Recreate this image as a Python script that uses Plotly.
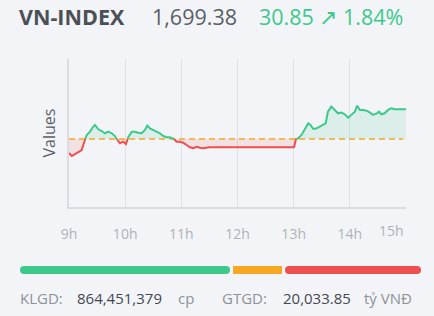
import plotly.graph_objects as go

W, H = 434, 316

# ---------------- data ----------------
index_name = "VN-INDEX"
last_value = 1699.38
change = 30.85
pct_change = 1.84
ref_value = 1668.53
klgd = 864451379
gtgd = 20033.85

times = [9.000, 9.048, 9.107, 9.165, 9.226, 9.254, 9.285, 9.315, 9.374, 9.422,
         9.463, 9.521, 9.582, 9.641, 9.699, 9.760, 9.819, 9.859, 9.907, 9.966,
         10.014, 10.055, 10.116, 10.174, 10.233, 10.294, 10.352, 10.393, 10.441, 10.500,
         10.560, 10.619, 10.678, 10.738, 10.797, 10.856, 10.916, 10.975, 11.034, 11.094,
         11.153, 11.212, 11.272, 11.331, 11.390, 11.450, 11.500,
         13.000, 13.010, 13.04, 13.08, 13.14, 13.20, 13.26, 13.30, 13.35, 13.41,
         13.47, 13.52, 13.57, 13.61, 13.67, 13.73, 13.79, 13.85, 13.91, 13.97,
         14.03, 14.09, 14.13, 14.18, 14.24, 14.30, 14.36, 14.41, 14.48, 14.52,
         14.56, 14.62, 14.68, 14.74, 14.80, 15.00]
values = [1654.0, 1650.9, 1652.9, 1655.3, 1657.1, 1662.3, 1667.5, 1672.7, 1676.1, 1680.7,
          1683.1, 1678.6, 1676.8, 1674.5, 1676.1, 1674.5, 1671.6, 1667.5, 1664.1, 1665.7,
          1663.3, 1670.3, 1676.1, 1676.1, 1675.1, 1674.5, 1677.9, 1682.3, 1679.6, 1677.9,
          1676.1, 1674.5, 1671.6, 1670.3, 1670.3, 1669.3, 1665.7, 1665.7, 1664.7, 1662.3,
          1659.9, 1658.9, 1660.5, 1659.5, 1658.9, 1659.5, 1659.9,
          1659.9, 1660.5, 1668.2, 1669.3, 1672.7, 1679.6, 1684.8, 1683.1, 1678.9, 1679.6,
          1682.0, 1683.1, 1684.8, 1696.9, 1702.1, 1698.7, 1695.2, 1695.9, 1694.2, 1690.7,
          1693.5, 1696.9, 1703.1, 1698.7, 1698.7, 1697.9, 1695.9, 1693.5, 1695.2, 1696.9,
          1694.2, 1695.2, 1698.7, 1700.4, 1699.4, 1699.38]

hour_ticks = [9, 10, 11, 12, 13, 14, 15]
hour_labels = ["9h", "10h", "11h", "12h", "13h", "14h", "15h"]

breadth_labels = ["up", "flat", "down"]
breadth_counts = [210, 49, 136]

# ---------------- style ----------------
BG = "#f3f4f8"
GREEN = "#3cc98b"
RED = "#ef4f50"
ORANGE = "#f7a823"
GRID = "#e0e1e6"
FONT = "Open Sans"


def px(x, y):
    return x / W, 1 - y / H


# split the series at crossings of the reference level (for colouring)
ts, vs = [times[0]], [values[0]]
for i in range(1, len(times)):
    a, b = values[i - 1] - ref_value, values[i] - ref_value
    if a * b < 0:
        tc = times[i - 1] + (ref_value - values[i - 1]) * (times[i] - times[i - 1]) / (values[i] - values[i - 1])
        ts.append(tc)
        vs.append(ref_value)
    ts.append(times[i])
    vs.append(values[i])

up_fill = [max(v, ref_value) for v in vs]
dn_fill = [min(v, ref_value) for v in vs]
up_line = [v if v >= ref_value else None for v in vs]
dn_line = [v if v <= ref_value else None for v in vs]

fig = go.Figure()
base = [ref_value] * len(ts)
fig.add_trace(go.Scatter(x=ts, y=base, mode="lines", line=dict(width=0), hoverinfo="skip"))
fig.add_trace(go.Scatter(x=ts, y=up_fill, mode="lines", line=dict(width=0),
                         fill="tonexty", fillcolor="rgba(60,201,139,0.13)", hoverinfo="skip"))
fig.add_trace(go.Scatter(x=ts, y=base, mode="lines", line=dict(width=0), hoverinfo="skip"))
fig.add_trace(go.Scatter(x=ts, y=dn_fill, mode="lines", line=dict(width=0),
                         fill="tonexty", fillcolor="rgba(239,79,80,0.12)", hoverinfo="skip"))
# reference dashed line
fig.add_trace(go.Scatter(x=[times[0], times[-1] - 0.05], y=[ref_value, ref_value], mode="lines",
                         line=dict(color=ORANGE, width=1.5, dash="6px,4px")))
fig.add_trace(go.Scatter(x=ts, y=dn_line, mode="lines", connectgaps=False,
                         line=dict(color=RED, width=2)))
fig.add_trace(go.Scatter(x=ts, y=up_line, mode="lines", connectgaps=False,
                         line=dict(color=GREEN, width=2)))

# breadth bar
gap = 3
bcolors = [GREEN, ORANGE, RED]
pos = 0
for i, (lab, c) in enumerate(zip(breadth_labels, breadth_counts)):
    if i == 0:
        fig.add_trace(go.Bar(x=[-c], base=[pos + c], y=[0], orientation="h", width=1,
                             marker=dict(color=bcolors[i], cornerradius=4, line=dict(width=0)),
                             xaxis="x2", yaxis="y2", name=lab))
    elif i == len(breadth_counts) - 1:
        fig.add_trace(go.Bar(x=[c], base=[pos], y=[0], orientation="h", width=1,
                             marker=dict(color=bcolors[i], cornerradius=4, line=dict(width=0)),
                             xaxis="x2", yaxis="y2", name=lab))
    else:
        fig.add_trace(go.Bar(x=[c], base=[pos], y=[0], orientation="h", width=1,
                             marker=dict(color=bcolors[i], line=dict(width=0)),
                             xaxis="x2", yaxis="y2", name=lab))
    pos += c + gap
total = sum(breadth_counts) + gap * (len(breadth_counts) - 1)

ann = []
def text(x, y, s, color, size, bold=False, xanchor="left"):
    xx, yy = px(x, y)
    ann.append(dict(xref="paper", yref="paper", x=xx, y=yy, xanchor=xanchor, yanchor="middle",
                    text=f"<b>{s}</b>" if bold else s, showarrow=False,
                    font=dict(family=FONT, size=size, color=color)))

text(17, 16, index_name, "#4b4f56", 21.5, bold=True)
text(150, 16, f"{last_value:,.2f}", "#5a5f66", 21.5)
text(257, 16, f"{change:,.2f} ↗ {pct_change:.2f}%", GREEN, 21.5)

text(18, 298, "KLGD:", "#8d9299", 15)
text(75, 298, f"{klgd:,}", "#44484f", 15)
text(176, 298, "cp", "#8d9299", 15)
text(220, 298, "GTGD:", "#8d9299", 15)
text(281, 298, f"{gtgd:,.2f}", "#44484f", 15)
text(362, 298, "tỷ VNĐ", "#8d9299", 15)

# 15h label right-aligned to the end of the axis
ann.append(dict(xref="x", yref="paper", x=hour_ticks[-1], y=px(0, 230)[1], xanchor="right",
                yanchor="middle", text=hour_labels[-1], showarrow=False,
                font=dict(family=FONT, size=14, color="#aeb2b8")))

fig.update_layout(
    width=W, height=H,
    margin=dict(l=0, r=0, t=0, b=0, pad=0, autoexpand=False),
    paper_bgcolor=BG, plot_bgcolor=BG,
    showlegend=False,
    annotations=ann,
    barmode="overlay",
    xaxis=dict(domain=[px(69, 0)[0], px(406, 0)[0]], range=[9, 15], tickvals=hour_ticks,
               ticktext=hour_labels[:-1] + [""], automargin=False,
               showgrid=True, gridcolor=GRID, gridwidth=1, zeroline=False,
               showline=True, linecolor="#dcdde3", linewidth=1.5, mirror=False,
               ticks="", ticklen=0, ticklabelstandoff=13,
               tickfont=dict(family=FONT, size=14, color="#aeb2b8"), fixedrange=True,
               anchor="y"),
    yaxis=dict(domain=[px(0, 207)[1], px(0, 59)[1]], range=[1597.9, 1751.6],
               showticklabels=False, showgrid=False, zeroline=False, automargin=False,
               showline=True, linecolor="#dcdde3", linewidth=1.5, ticks="", anchor="x",
               title=dict(text="Values", font=dict(family=FONT, size=16, color="#5a5f66"), standoff=8)),
    xaxis2=dict(domain=[px(20, 0)[0], px(421, 0)[0]], range=[0, total], visible=False,
                anchor="y2", automargin=False),
    yaxis2=dict(domain=[px(0, 274)[1], px(0, 266)[1]], range=[-0.5, 0.5], visible=False,
                anchor="x2", automargin=False),
)

fig.write_html("out.html")
